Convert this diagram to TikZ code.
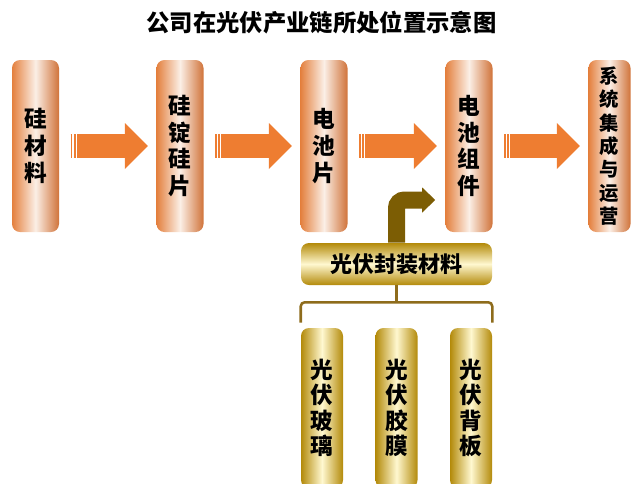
\documentclass[tikz,border=0pt]{standalone}
\usepackage{fontspec}
\setmainfont{Noto Sans CJK SC}
\usepackage{xcolor}
\usetikzlibrary{arrows.meta,calc}
\definecolor{flowor}{HTML}{EE7D31}
\definecolor{barL}{HTML}{E4803E}
\definecolor{barM}{HTML}{FBEFE6}
\definecolor{barR}{HTML}{D0733A}
\definecolor{goldD}{HTML}{B38A0A}
\definecolor{goldM}{HTML}{FFF8D0}
\definecolor{feedbr}{HTML}{7C5D04}
\definecolor{bracebr}{HTML}{8E6C1C}
\tikzset{stage/.style={rounded corners=6pt,minimum width=35.25pt,minimum height=129pt,inner sep=0pt,align=center,left color=barL,right color=barR,middle color=barM,font=\bfseries\fontsize{17}{20}\selectfont}}
\tikzset{part/.style={rounded corners=6pt,minimum width=31.5pt,minimum height=120pt,inner sep=0pt,align=center,left color=goldD,right color=goldD,middle color=goldM,font=\bfseries\fontsize{17}{19}\selectfont}}
\tikzset{flow/.style={draw=flowor,line width=18pt,-{Triangle[length=17.25pt,width=34.5pt,line width=0pt]},shorten <=8.6pt,shorten >=6.2pt}}
\tikzset{gap/.style={draw=white,line width=1pt}}

\begin{document}
\begin{tikzpicture}[x=0.75pt,y=-0.75pt]
        \useasboundingbox (0,0) rectangle (635,483);
        \node (title) at (321.5,23) {\bfseries\fontsize{17.5}{20}\selectfont 公司在光伏产业链所处位置示意图};

        \node[stage] (b1) at (35.5,146) {硅\\材\\料};
        \node[stage] (b2) at (180,146) {硅\\锭\\硅\\片};
        \node[stage] (b3) at (324,146) {电\\池\\片};
        \node[stage] (b4) at (469,146) {电\\池\\组\\件};
        \node[stage,minimum width=31.5pt,font=\bfseries\fontsize{14.5}{17.5}\selectfont] (b5) at (609.5,146) {系\\统\\集\\成\\与\\运\\营};

        \node[rounded corners=6pt,minimum width=143.25pt,minimum height=31.5pt,inner sep=0pt,top color=goldD,bottom color=goldD,middle color=goldM,font=\bfseries\fontsize{16.5}{19}\selectfont] (mat) at (396.5,264) {光伏封装材料};
        \node[part] (g1) at (322,408) {光\\伏\\玻\\璃};
        \node[part] (g2) at (396.5,408) {光\\伏\\胶\\膜};
        \node[part] (g3) at (471,408) {光\\伏\\背\\板};

        \foreach \a/\b in {b1/b2,b2/b3,b3/b4,b4/b5} {
            \draw [flow] (\a) to [] (\b);
            \foreach \d in {13.8,17} \draw [gap] ($(\a.east)+(\d,-12)$) -- ++(0,24);
        }
        \draw [draw=feedbr,line width=12.75pt,rounded corners=6pt,-{Triangle[length=9.75pt,width=18.75pt,line width=0pt]},shorten >=7.5pt] (mat.north) |- ($(b4.west)+(0,54)$);
        \draw [draw=bracebr,line width=1.9pt] (mat.south) -- ++(0,17);
        \draw [draw=bracebr,line width=1.9pt,rounded corners=3pt] ($(g1.north west)+(0,-5)$) |- ($(mat.south)+(0,17)$) -| ($(g3.north east)+(0,-5)$);
    \end{tikzpicture}
\end{document}
